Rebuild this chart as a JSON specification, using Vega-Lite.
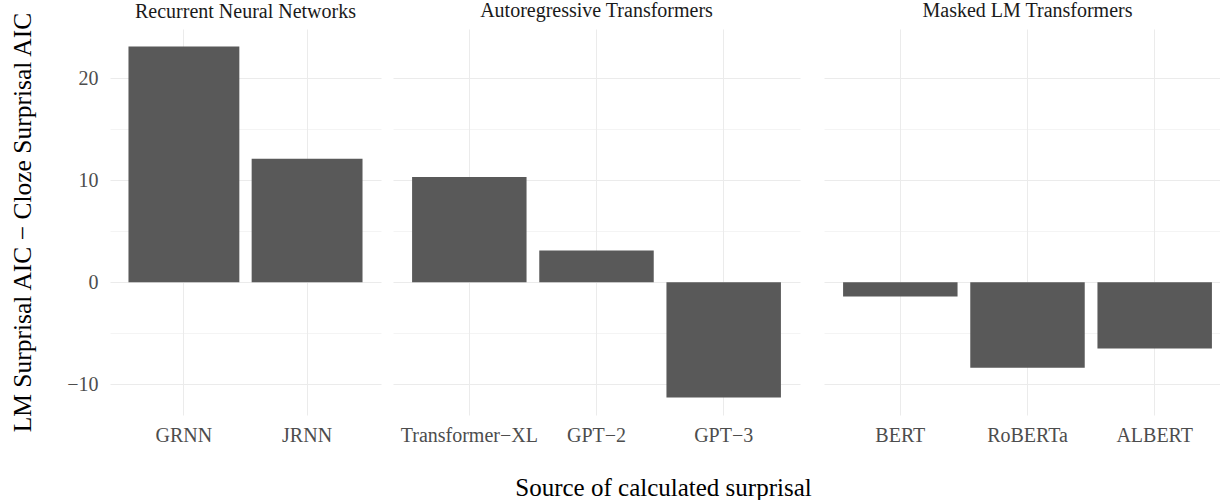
{
  "$schema": "https://vega.github.io/schema/vega-lite/v6.json",
  "background": "white",
  "padding": {"left": 9, "top": 1, "right": 0, "bottom": 0},
  "autosize": {"type": "pad"},
  "spacing": 12,
  "datasets": {
    "d": [
      {"group": "Recurrent Neural Networks", "model": "GRNN", "value": 23.1},
      {"group": "Recurrent Neural Networks", "model": "JRNN", "value": 12.1},
      {"group": "Autoregressive Transformers", "model": "Transformer−XL", "value": 10.3},
      {"group": "Autoregressive Transformers", "model": "GPT−2", "value": 3.1},
      {"group": "Autoregressive Transformers", "model": "GPT−3", "value": -11.3},
      {"group": "Masked LM Transformers", "model": "BERT", "value": -1.4},
      {"group": "Masked LM Transformers", "model": "RoBERTa", "value": -8.4},
      {"group": "Masked LM Transformers", "model": "ALBERT", "value": -6.5}
    ]
  },
  "config": {
    "view": {"stroke": null},
    "font": "Liberation Serif",
    "axis": {
      "domain": false,
      "ticks": false,
      "tickSize": 0,
      "gridColor": "#EBEBEB",
      "labelFont": "Liberation Serif",
      "labelFontSize": 20,
      "labelColor": "#4D4D4D",
      "titleFont": "Liberation Serif",
      "titleFontSize": 25,
      "titleColor": "#000000",
      "titleFontWeight": "normal"
    },
    "title": {
      "font": "Liberation Serif",
      "fontSize": 20,
      "fontWeight": "normal",
      "color": "#1A1A1A",
      "anchor": "middle",
      "offset": 8,
      "baseline": "alphabetic"
    }
  },
  "resolve": {"scale": {"y": "shared"}},
  "hconcat": [
    {
      "width": 271,
      "height": 386,
      "title": {"text": "Recurrent Neural Networks", "offset": -11},
      "data": {"name": "d"},
      "transform": [{"filter": "datum.group === 'Recurrent Neural Networks'"}],
      "mark": {"type": "bar", "color": "#595959"},
      "encoding": {
        "x": {
          "field": "model", "type": "nominal", "sort": ["GRNN", "JRNN"],
          "scale": {"paddingInner": 0.1, "paddingOuter": 0.15},
          "axis": {"title": null, "labelAngle": 0, "labelPadding": 10, "grid": true, "bandPosition": 0.5, "gridWidth": 1.07}
        },
        "y": {
          "field": "value", "type": "quantitative",
          "scale": {"domain": [-13.02, 24.82], "nice": false, "zero": false},
          "axis": {
            "values": [-10, -5, 0, 5, 10, 15, 20],
            "labelExpr": "datum.value % 10 === 0 ? replace(datum.label, '-', '−') : ''",
            "gridWidth": {"condition": {"test": "datum.value % 10 !== 0", "value": 0.55}, "value": 1.07},
            "labelPadding": 12,
            "title": "LM Surprisal AIC − Cloze Surprisal AIC",
            "titleFontSize": 25.5,
            "titleX": -80,
            "titleY": 193,
            "titleAngle": 270,
            "titleAlign": "center",
            "titleBaseline": "alphabetic"
          }
        },
        "y2": {"datum": 0}
      }
    },
    {
      "width": 407,
      "height": 386,
      "title": "Autoregressive Transformers",
      "data": {"name": "d"},
      "transform": [{"filter": "datum.group === 'Autoregressive Transformers'"}],
      "mark": {"type": "bar", "color": "#595959"},
      "encoding": {
        "x": {
          "field": "model", "type": "nominal", "sort": ["Transformer−XL", "GPT−2", "GPT−3"],
          "scale": {"paddingInner": 0.1, "paddingOuter": 0.15},
          "axis": {
            "title": "Source of calculated surprisal", "labelAngle": 0, "labelPadding": 10, "grid": true, "bandPosition": 0.5, "gridWidth": 1.07,
            "titleX": 270, "titleY": 80, "titleAlign": "center", "titleBaseline": "alphabetic"
          }
        },
        "y": {
          "field": "value", "type": "quantitative",
          "scale": {"domain": [-13.02, 24.82], "nice": false, "zero": false},
          "axis": {
            "values": [-10, -5, 0, 5, 10, 15, 20],
            "labels": false,
            "title": null,
            "gridWidth": {"condition": {"test": "datum.value % 10 !== 0", "value": 0.55}, "value": 1.07}
          }
        },
        "y2": {"datum": 0}
      }
    },
    {
      "width": 407,
      "height": 386,
      "title": "Masked LM Transformers",
      "data": {"name": "d"},
      "transform": [{"filter": "datum.group === 'Masked LM Transformers'"}],
      "mark": {"type": "bar", "color": "#595959"},
      "encoding": {
        "x": {
          "field": "model", "type": "nominal", "sort": ["BERT", "RoBERTa", "ALBERT"],
          "scale": {"paddingInner": 0.1, "paddingOuter": 0.15},
          "axis": {"title": null, "labelAngle": 0, "labelPadding": 10, "grid": true, "bandPosition": 0.5, "gridWidth": 1.07}
        },
        "y": {
          "field": "value", "type": "quantitative",
          "scale": {"domain": [-13.02, 24.82], "nice": false, "zero": false},
          "axis": {
            "values": [-10, -5, 0, 5, 10, 15, 20],
            "labels": false,
            "title": null,
            "gridWidth": {"condition": {"test": "datum.value % 10 !== 0", "value": 0.55}, "value": 1.07}
          }
        },
        "y2": {"datum": 0}
      }
    }
  ]
}
